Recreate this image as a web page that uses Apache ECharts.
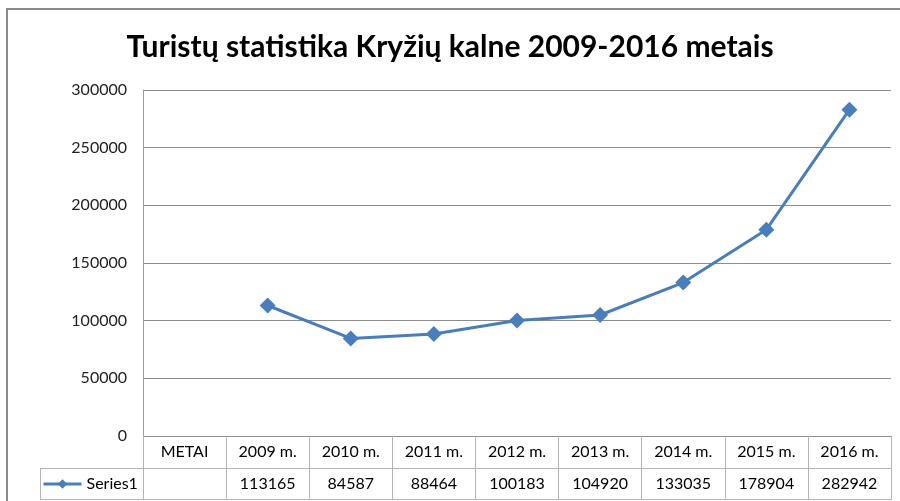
<!DOCTYPE html>
<html>
<head>
<meta charset="utf-8">
<script src="https://cdn.jsdelivr.net/npm/echarts@6/dist/echarts.min.js"></script>
<style>
	html, body { margin: 0; padding: 0; background: #fff; }
	#chart { width: 900px; height: 501px; }
</style>
</head>
<body>
<div id="chart"></div>
<script>
// chart data
const categories = ['METAI', '2009 m.', '2010 m.', '2011 m.', '2012 m.', '2013 m.', '2014 m.', '2015 m.', '2016 m.']
const visitors = [null, 113165, 84587, 88464, 100183, 104920, 133035, 178904, 282942]
const seriesName = 'Series1'
const titleText = 'Turistų statistika Kryžių kalne 2009-2016 metais'

const font = 'Lato, "Open Sans", sans-serif'
const lineColor = '#4a7ebb'
const tableColor = '#b3b3b3'

// plot box (layout)
const plot = { left: 143, right: 891, top: 90, bottom: 436 }
const rowH = 32

const tableRow = visitors.map(v => (v === null ? '' : String(v)))

const instance = echarts.init(document.getElementById('chart'), null, { renderer: 'canvas' })

const option = {
	animation: false,
	title: {
		text: titleText,
		left: 'center',
		top: 27,
		textStyle: { fontFamily: font, fontSize: 30, fontWeight: 'bold', color: '#000' },
	},
	grid: {
		left: plot.left,
		right: 900 - plot.right,
		top: plot.top,
		bottom: 501 - plot.bottom,
	},
	legend: {
		left: 42,
		top: 476,
		padding: 0,
		itemWidth: 38,
		itemHeight: 12,
		itemGap: 4,
		lineStyle: { width: 3 },
		textStyle: { fontFamily: font, fontSize: 16, color: '#000' },
		data: [seriesName],
	},
	xAxis: [
		{
			type: 'category',
			data: categories,
			position: 'bottom',
			boundaryGap: true,
			axisLine: { show: false },
			axisTick: { show: true, length: rowH * 2, lineStyle: { color: tableColor, width: 1 } },
			axisLabel: { margin: 8, fontFamily: font, fontSize: 16, color: '#000' },
			splitLine: { show: false },
		},
		{
			type: 'category',
			data: tableRow,
			position: 'bottom',
			offset: rowH,
			boundaryGap: true,
			axisLine: { show: false },
			axisTick: { show: false },
			axisLabel: { margin: 8, fontFamily: font, fontSize: 16, color: '#000' },
		},
	],
	yAxis: {
		type: 'value',
		min: 0,
		max: 300000,
		interval: 50000,
		axisLine: { show: true, lineStyle: { color: '#9a9a9a', width: 1 } },
		axisTick: { show: false },
		axisLabel: {
			margin: 16,
			fontFamily: font,
			fontSize: 16,
			color: '#222',
			formatter: v => String(v),
		},
		splitLine: { show: true, lineStyle: { color: '#8c8c8c', width: 1 } },
	},
	series: [
		{
			name: seriesName,
			type: 'line',
			data: visitors,
			symbol: 'diamond',
			symbolSize: 16,
			connectNulls: false,
			lineStyle: { color: lineColor, width: 3 },
			itemStyle: { color: lineColor },
		},
	],
	graphic: [
		// outer chart border
		{
			type: 'polyline',
			shape: { points: [[7, 501], [7, 9], [900, 9]] },
			style: { stroke: '#8a8a8a', lineWidth: 2, fill: null },
		},
		// data table horizontal lines
		{
			type: 'line',
			shape: { x1: plot.left, y1: plot.bottom + 0.5, x2: plot.right, y2: plot.bottom + 0.5 },
			style: { stroke: tableColor, lineWidth: 1 },
		},
		{
			type: 'line',
			shape: { x1: 40, y1: plot.bottom + rowH + 0.5, x2: plot.right, y2: plot.bottom + rowH + 0.5 },
			style: { stroke: tableColor, lineWidth: 1 },
		},
		{
			type: 'line',
			shape: { x1: 40, y1: plot.bottom + rowH * 2 - 0.5, x2: plot.right, y2: plot.bottom + rowH * 2 - 0.5 },
			style: { stroke: tableColor, lineWidth: 1 },
		},
		{
			type: 'line',
			shape: { x1: 40.5, y1: plot.bottom + rowH, x2: 40.5, y2: plot.bottom + rowH * 2 },
			style: { stroke: tableColor, lineWidth: 1 },
		},
	],
}

instance.setOption(option)
</script>
</body>
</html>
